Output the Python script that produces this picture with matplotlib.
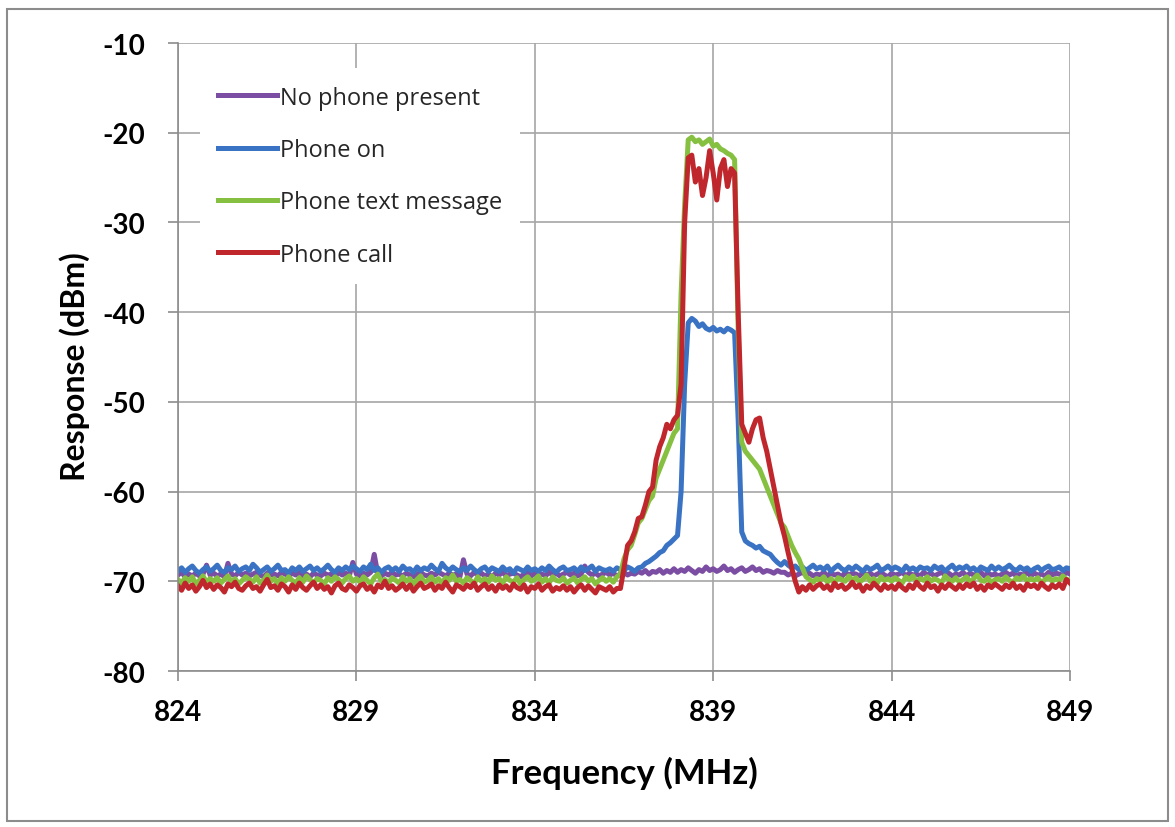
import numpy as np
import matplotlib
matplotlib.use('Agg')
import matplotlib.pyplot as plt
from matplotlib.patches import Rectangle

plt.rcParams['font.family'] = ['Lato', 'DejaVu Sans']
plt.rcParams['axes.unicode_minus'] = False

# frequency sweep, 0.1 MHz step (824.0 ... 849.0)
freq = np.round(np.arange(824.0, 849.05, 0.1), 1)

labels = ['No phone present', 'Phone on', 'Phone text message', 'Phone call']
colors = ['#7b4ea3', '#3a73c4', '#86c041', '#c0272d']

# one row per MHz
no_phone = [
    -69.3, -69.0, -69.5, -69.2, -69.4, -69.1, -69.4, -69.2, -68.2, -69.3,
    -69.1, -69.4, -69.2, -69.5, -68.0, -69.2, -69.4, -69.0, -69.3, -69.1,
    -69.4, -69.2, -69.0, -69.3, -69.5, -69.1, -69.3, -69.2, -69.4, -69.0,
    -69.2, -69.4, -69.1, -69.3, -69.0, -69.4, -69.2, -69.5, -69.1, -69.3,
    -69.4, -69.1, -69.3, -69.2, -69.5, -69.0, -69.3, -69.1, -69.4, -67.9,
    -69.2, -69.4, -69.1, -69.3, -69.0, -67.0, -69.2, -69.4, -69.1, -69.3,
    -69.0, -69.3, -69.2, -69.4, -69.1, -69.3, -69.5, -69.2, -69.0, -69.3,
    -69.4, -69.1, -69.3, -69.0, -69.2, -69.4, -69.1, -69.3, -69.2, -69.5,
    -67.6, -69.2, -69.4, -69.0, -69.3, -69.1, -69.4, -69.2, -69.5, -69.1,
    -69.3, -69.0, -69.4, -69.2, -69.1, -69.3, -69.5, -69.2, -69.0, -69.4,
    -69.1, -69.3, -69.2, -69.4, -69.0, -69.3, -69.1, -69.4, -69.2, -69.0,
    -69.3, -69.1, -69.4, -69.2, -68.3, -69.0, -69.3, -69.1, -69.4, -69.2,
    -69.0, -69.3, -69.1, -69.4, -69.2, -69.0, -69.3, -69.1, -69.2, -68.9,
    -69.1, -68.8, -69.2, -68.9, -69.0, -68.7, -69.1, -68.8, -69.0, -68.6,
    -69.0, -68.7, -68.9, -68.5, -68.8, -69.1, -68.7, -68.9, -68.4, -68.8,
    -68.6, -68.9, -68.7, -68.3, -68.8, -68.6, -69.0, -68.7, -68.5, -68.9,
    -68.7, -68.4, -68.8, -68.6, -69.0, -68.8, -68.9, -69.1, -68.8, -69.0,
    -69.0, -69.3, -69.1, -69.4, -69.2, -69.0, -69.3, -69.1, -69.4, -69.2,
    -69.3, -69.0, -69.4, -69.1, -69.3, -69.2, -69.5, -69.0, -69.3, -69.1,
    -69.2, -69.4, -69.0, -69.3, -69.1, -69.4, -69.2, -69.0, -69.3, -69.5,
    -69.1, -69.3, -69.2, -69.0, -69.4, -69.1, -69.3, -69.2, -69.4, -69.0,
    -69.3, -69.1, -69.4, -69.2, -69.0, -69.3, -69.1, -69.4, -69.2, -69.3,
    -69.0, -69.4, -69.1, -69.3, -69.2, -69.0, -69.4, -69.1, -69.3, -69.2,
    -69.4, -69.2, -69.0, -69.3, -69.1, -69.4, -69.2, -69.3, -69.0, -69.4,
    -69.1, -69.3, -69.2, -69.4, -69.0, -69.3, -69.1, -69.2, -69.4, -69.0,
    -69.2,
]

phone_on = [
    -68.9, -68.5, -69.0, -68.6, -68.3, -68.8, -69.1, -68.7, -68.4, -68.9,
    -68.6, -68.2, -68.8, -69.0, -68.5, -68.7, -68.3, -68.9, -68.6, -68.4,
    -68.8, -68.1, -68.5, -69.0, -68.7, -68.4, -68.9, -68.6, -68.2, -68.8,
    -68.7, -69.1, -68.5, -68.8, -68.4, -68.9, -68.6, -68.3, -68.8, -68.5,
    -68.9, -68.6, -68.2, -68.7, -69.0, -68.5, -68.8, -68.4, -68.7, -68.3,
    -68.6, -68.9, -68.4, -68.7, -68.1, -68.8, -68.5, -69.0, -68.6, -68.4,
    -68.8, -68.5, -68.9, -68.3, -68.7, -68.6, -69.0, -68.4, -68.8, -68.5,
    -68.7, -68.2, -68.6, -68.9, -68.0, -68.5, -68.8, -68.4, -68.7, -68.9,
    -68.5, -68.8, -68.3, -68.7, -69.0, -68.6, -68.4, -68.9, -68.5, -68.7,
    -68.9, -68.4, -68.8, -68.6, -69.1, -68.5, -68.7, -68.9, -68.4, -68.8,
    -68.6, -68.9, -68.5, -68.8, -68.3, -68.7, -69.0, -68.6, -68.4, -68.8,
    -68.7, -68.5, -68.9, -68.4, -68.8, -68.6, -68.3, -68.9, -68.5, -68.7,
    -68.8, -68.6, -68.9, -68.5, -68.7, -68.8, -68.4, -68.6, -68.9, -68.5,
    -68.4, -68.0, -67.8, -67.5, -67.2, -66.8, -66.6, -66.0, -65.7, -65.3,
    -64.9, -60.0, -48.0, -41.2, -40.7, -41.0, -41.6, -41.3, -41.8, -42.0,
    -41.7, -42.1, -41.9, -42.2, -41.8, -42.0, -42.3, -52.0, -64.5, -65.5,
    -65.8, -66.0, -66.3, -66.1, -66.6, -66.8, -67.0, -67.5, -67.9, -68.2,
    -67.8, -68.2, -68.5, -68.3, -68.7, -68.4, -68.8, -68.5, -68.2, -68.6,
    -68.4, -68.7, -68.3, -68.9, -68.5, -68.2, -68.6, -68.8, -68.4, -68.7,
    -68.3, -68.6, -68.9, -68.4, -68.7, -68.5, -68.2, -68.8, -68.6, -68.3,
    -68.7, -68.4, -68.6, -68.9, -68.3, -68.7, -68.5, -68.8, -68.4, -68.6,
    -68.5, -68.8, -68.3, -68.6, -68.4, -68.9, -68.5, -68.2, -68.7, -68.4,
    -68.6, -68.3, -68.7, -68.5, -68.9, -68.4, -68.6, -68.8, -68.3, -68.7,
    -68.4, -68.7, -68.5, -68.2, -68.6, -68.8, -68.4, -68.7, -68.5, -68.9,
    -68.6, -68.4, -68.8, -68.5, -68.3, -68.7, -68.6, -68.4, -68.8, -68.5,
    -68.6,
]

text_msg = [
    -69.8, -70.2, -69.6, -70.0, -69.5, -70.3, -69.9, -69.4, -70.1, -69.7,
    -70.0, -69.6, -70.2, -69.8, -69.4, -70.1, -69.7, -70.3, -69.9, -69.5,
    -69.8, -70.1, -69.5, -70.2, -69.9, -69.3, -70.0, -69.7, -70.3, -69.6,
    -70.0, -69.5, -69.9, -70.2, -69.6, -70.1, -69.4, -69.8, -70.2, -69.7,
    -69.9, -70.3, -69.6, -70.0, -69.5, -69.8, -70.2, -69.7, -69.4, -70.0,
    -69.7, -70.1, -69.5, -69.9, -70.3, -69.6, -69.2, -70.0, -69.8, -70.2,
    -69.6, -69.9, -70.2, -69.5, -70.0, -69.7, -70.3, -69.8, -69.4, -70.1,
    -69.9, -69.5, -70.1, -69.7, -70.2, -69.6, -69.9, -69.3, -70.0, -69.8,
    -70.2, -69.6, -69.9, -70.3, -69.5, -70.0, -69.7, -70.1, -69.4, -69.9,
    -69.7, -70.2, -69.5, -69.9, -70.1, -69.6, -70.3, -69.8, -69.5, -70.0,
    -69.8, -69.4, -70.1, -69.7, -70.2, -69.5, -69.9, -70.0, -69.6, -70.2,
    -69.9, -69.6, -70.2, -69.8, -69.5, -70.0, -69.7, -70.3, -69.9, -69.6,
    -70.0, -69.7, -70.1, -69.5, -69.2, -67.5, -66.5, -66.0, -64.8, -63.5,
    -63.0, -62.0, -61.0, -60.5, -58.5, -57.5, -56.5, -55.5, -54.5, -53.5,
    -53.0, -38.0, -28.0, -20.8, -20.5, -21.0, -20.8, -21.3, -21.0, -20.7,
    -21.5, -21.3, -21.8, -22.0, -22.3, -22.5, -23.0, -42.0, -54.5, -55.5,
    -56.0, -56.5, -57.0, -57.5, -58.5, -59.5, -60.5, -61.5, -62.5, -63.5,
    -64.0, -65.0, -66.0, -66.8, -67.5, -68.5, -69.5, -69.8, -70.1, -69.7,
    -69.9, -69.5, -70.1, -69.7, -70.2, -69.6, -69.8, -70.0, -69.4, -69.9,
    -69.6, -70.1, -69.8, -69.3, -70.0, -69.7, -70.2, -69.5, -69.9, -69.7,
    -70.0, -69.6, -69.9, -70.2, -69.5, -69.8, -69.4, -70.1, -69.7, -69.9,
    -69.5, -70.0, -69.7, -69.9, -70.2, -69.4, -69.8, -70.0, -69.6, -70.1,
    -69.8, -69.5, -70.1, -69.7, -69.3, -69.9, -70.0, -69.6, -70.2, -69.8,
    -69.7, -70.0, -69.5, -69.9, -70.1, -69.6, -69.8, -69.4, -70.0, -69.7,
    -69.9, -69.6, -70.2, -69.8, -69.5, -70.0, -69.7, -69.9, -69.4, -69.8,
    -69.9,
]

call = [
    -70.5, -71.0, -70.2, -70.8, -70.4, -71.1, -70.6, -69.9, -70.7, -70.3,
    -70.9, -70.4, -70.7, -71.2, -70.3, -70.6, -70.1, -70.8, -71.0, -70.5,
    -70.2, -70.8, -70.6, -71.1, -70.4, -69.8, -70.7, -70.5, -71.0, -70.3,
    -70.6, -71.2, -70.4, -70.9, -70.2, -70.7, -71.0, -70.5, -70.1, -70.8,
    -70.4, -70.9, -70.6, -71.3, -70.5, -70.2, -70.8, -71.0, -70.4, -70.7,
    -71.1, -70.5, -70.3, -70.9, -70.6, -71.2, -70.4, -70.7, -70.0, -70.8,
    -70.5, -71.0, -70.7, -70.3, -70.9, -70.4, -71.1, -70.6, -70.2, -70.8,
    -70.6, -70.3, -71.0, -70.5, -70.8, -70.1, -70.7, -71.2, -70.4, -70.6,
    -70.9, -70.4, -70.7, -70.2, -71.0, -70.6, -70.3, -70.9, -70.5, -71.1,
    -70.4, -70.8, -70.5, -71.0, -70.3, -70.7, -70.9, -70.4, -71.2, -70.6,
    -70.8, -70.3, -71.0, -70.6, -70.4, -71.1, -70.7, -70.9, -70.5, -71.0,
    -70.6, -71.2, -70.7, -70.4, -71.0, -70.5, -70.9, -71.3, -70.6, -70.8,
    -71.0, -70.6, -71.2, -70.8, -70.8, -68.5, -66.0, -65.5, -64.5, -63.0,
    -62.8, -61.5, -60.0, -59.5, -56.5, -55.0, -54.0, -52.5, -53.0, -52.0,
    -51.5, -48.0, -30.0, -22.8, -22.5, -25.5, -24.0, -27.0, -25.0, -22.0,
    -24.5, -27.5, -24.0, -23.0, -26.0, -24.0, -24.5, -40.0, -52.5, -53.5,
    -54.5, -53.0, -52.0, -51.8, -54.0, -55.5, -57.5, -59.5, -61.5, -63.5,
    -65.0, -66.8, -68.5, -70.0, -71.2, -70.6, -71.0, -70.4, -70.9, -70.5,
    -70.3, -70.8, -70.5, -71.0, -70.2, -70.7, -70.4, -70.9, -70.6, -70.1,
    -70.7, -70.4, -71.1, -70.5, -70.8, -70.2, -70.6, -71.0, -70.4, -70.8,
    -70.5, -70.9, -70.3, -70.7, -71.0, -70.4, -70.8, -70.1, -70.6, -70.9,
    -70.2, -70.7, -70.5, -71.1, -70.4, -70.8, -70.3, -70.6, -70.9, -70.4,
    -70.8, -70.3, -70.6, -70.2, -70.9, -70.5, -71.0, -70.4, -70.7, -70.3,
    -70.6, -70.9, -70.4, -70.7, -70.2, -70.8, -70.5, -71.0, -70.3, -70.6,
    -70.4, -70.8, -70.2, -70.6, -70.9, -70.4, -70.7, -70.3, -70.8, -69.8,
    -70.2,
]

x_ticks = [824, 829, 834, 839, 844, 849]
y_ticks = [-80, -70, -60, -50, -40, -30, -20, -10]

fig = plt.figure(figsize=(11.75, 8.28), dpi=100)
ax = fig.add_axes([178/1175, 1-672/828, 892/1175, 628/828])

for vals, lab, c in zip([no_phone, phone_on, text_msg, call], labels, colors):
    ax.plot(freq, vals, color=c, lw=3.6, label=lab, solid_joinstyle='round')

ax.set_xlim(824, 849)
ax.set_ylim(-80, -10)
ax.set_xticks(x_ticks)
ax.set_yticks(y_ticks)
ax.grid(True, color='#a6a6a6', lw=1.2)
ax.set_axisbelow(True)
for s in ['top', 'right']:
    ax.spines[s].set_visible(False)
for s in ['left', 'bottom']:
    ax.spines[s].set_color('#8c8c8c')
    ax.spines[s].set_linewidth(1.2)
ax.tick_params(axis='both', direction='out', length=7.5, width=1.2, color='#8c8c8c',
               labelsize=20)
ax.tick_params(axis='y', pad=16)
ax.tick_params(axis='x', pad=13)
for t in ax.get_xticklabels() + ax.get_yticklabels():
    t.set_fontweight('bold')

ax.set_xlabel('Frequency (MHz)', fontsize=25, fontweight='bold')
ax.set_ylabel('Response (dBm)', fontsize=23, fontweight='bold')
ax.xaxis.label.set_va('center')
ax.yaxis.label.set_va('center')
ax.xaxis.set_label_coords(0.5, (672-773)/628)
ax.yaxis.set_label_coords((75-178)/892, (672-367)/628)

leg = ax.legend(loc='upper left', bbox_to_anchor=((200-178)/892, (672-69)/628),
                borderaxespad=0, frameon=True, fancybox=False, framealpha=1,
                edgecolor='none', facecolor='white',
                prop={'family': ['Open Sans', 'DejaVu Sans'], 'size': 17},
                handlelength=2.5, handletextpad=0.15, labelspacing=1.2,
                borderpad=0.75)
for line in leg.get_lines():
    line.set_linewidth(3.6)
for t in leg.get_texts():
    t.set_color('#262626')

fig.patches.append(Rectangle((7/1175, 1-822/828), 1161/1175, 812/828,
                             transform=fig.transFigure, fill=False,
                             ec='#8c8c8c', lw=1.5))

fig.savefig('out.png', dpi=100, facecolor='white')
